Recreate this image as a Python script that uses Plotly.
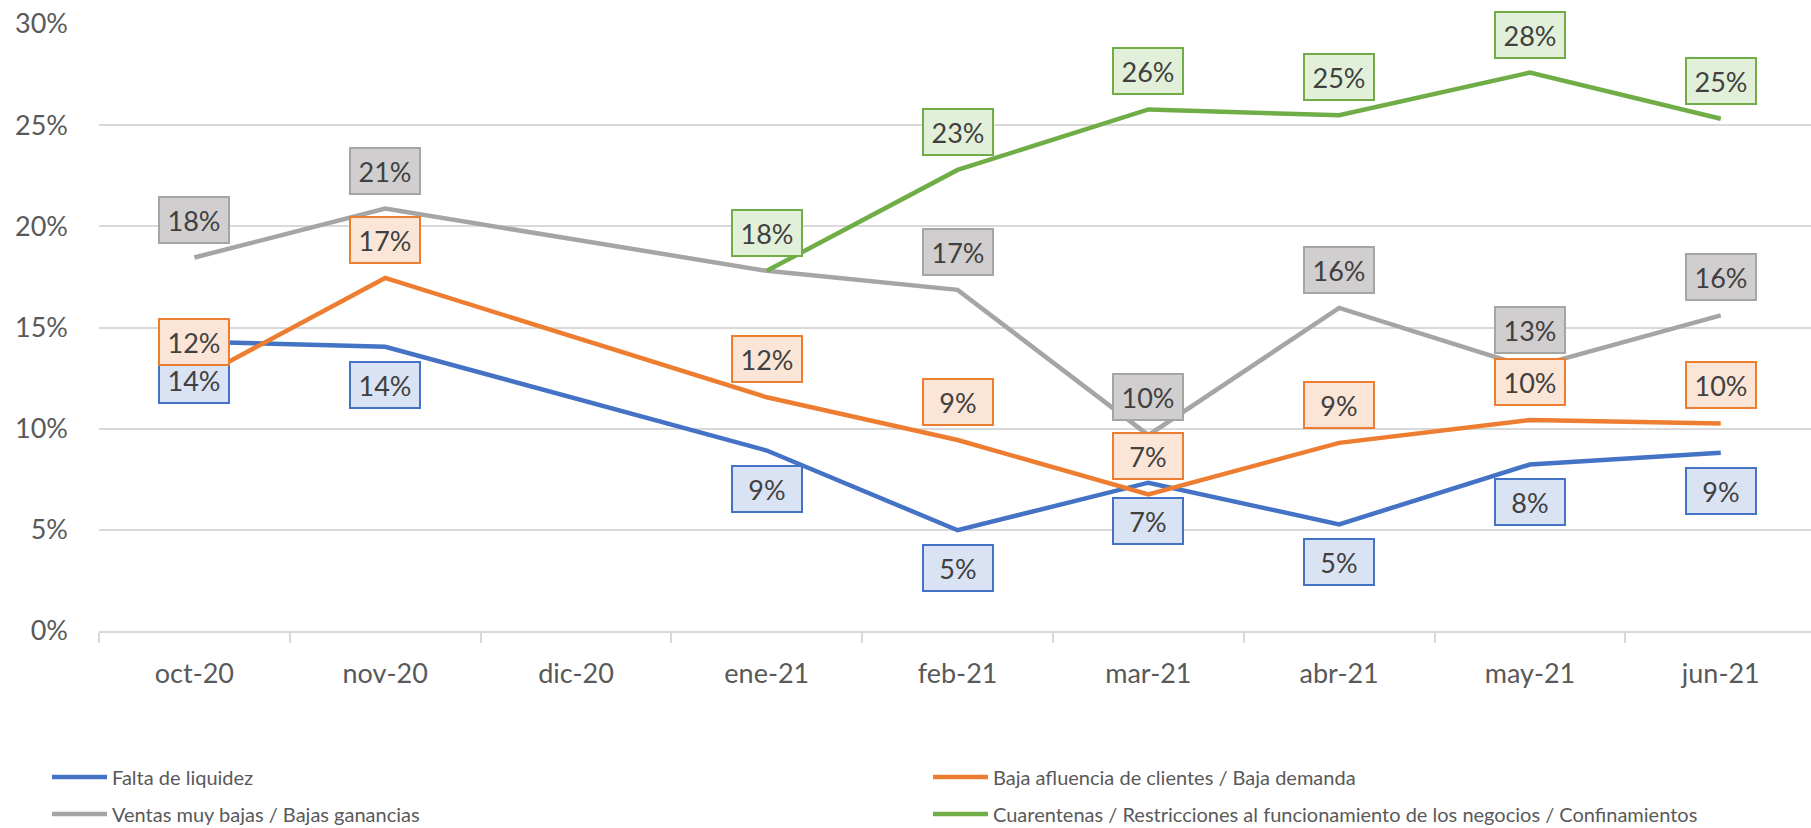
import plotly.graph_objects as go

categories = ["oct-20", "nov-20", "dic-20", "ene-21", "feb-21", "mar-21", "abr-21", "may-21", "jun-21"]

falta_liquidez = [14.3, 14.05, None, 8.92, 4.98, 7.33, 5.27, 8.23, 8.81]
baja_afluencia = [12.4, 17.45, None, 11.55, 9.44, 6.75, 9.3, 10.43, 10.26]
ventas_bajas = [18.46, 20.88, None, 17.8, 16.86, 9.68, 15.97, 13.0, 15.6]
cuarentenas = [None, None, None, 17.8, 22.79, 25.78, 25.49, 27.6, 25.32]

series = [
    ("Falta de liquidez", falta_liquidez, "#4472C4", "#DAE3F3", -1, "legend"),
    ("Baja afluencia de clientes / Baja demanda", baja_afluencia, "#ED7D31", "#FBE5D6", 1, "legend2"),
    ("Ventas muy bajas / Bajas ganancias", ventas_bajas, "#A5A5A5", "#D0CECE", 1, "legend"),
    ("Cuarentenas / Restricciones al funcionamiento de los negocios / Confinamientos",
     cuarentenas, "#70AD47", "#E2F0D9", 1, "legend2"),
]

y_ticks = [0, 5, 10, 15, 20, 25, 30]
y_tick_text = ["0%", "5%", "10%", "15%", "20%", "25%", "30%"]

FONT = "Lato, Open Sans, sans-serif"
LEG_FONT = "Lato, sans-serif"

W, H = 1811, 828
PLOT_TOP, PLOT_BOTTOM, PLOT_LEFT = 24, 631, 99
PH = PLOT_BOTTOM - PLOT_TOP
PW = W - PLOT_LEFT

fig = go.Figure()
annotations = []
for i, (name, vals, color, fill, side, leg) in enumerate(series):
    fig.add_trace(go.Scatter(
        x=categories, y=vals, name=name, mode="lines",
        line=dict(color=color, width=4.5),
        connectgaps=True, legend=leg, legendgroup=f"g{i}",
        hoverinfo="skip",
    ))
    for c, v in zip(categories, vals):
        if v is None:
            continue
        annotations.append(dict(
            x=c, y=v, xref="x", yref="y", text=f"{v:.0f}%", showarrow=False,
            yshift=38 * side, bgcolor=fill, bordercolor=color, borderwidth=2,
            borderpad=0, width=68, height=44, valign="middle",
            font=dict(family=FONT, size=27, color="#404040"),
        ))

leg_y = (PLOT_BOTTOM - 757.5) / PH

fig.update_layout(
    width=W, height=H,
    margin=dict(l=PLOT_LEFT, r=0, t=PLOT_TOP, b=H - PLOT_BOTTOM, autoexpand=False),
    paper_bgcolor="white", plot_bgcolor="white",
    showlegend=True,
    annotations=annotations,
    xaxis=dict(
        type="category", categoryorder="array", categoryarray=categories,
        range=[-0.5, 8.473], showgrid=False,
        showline=True, linecolor="#D9D9D9", linewidth=1.5,
        ticks="outside", tickson="boundaries", ticklen=10, tickcolor="#D9D9D9", tickwidth=1.5,
        tickfont=dict(family=FONT, size=27, color="#595959"),
        ticklabelstandoff=18,
    ),
    yaxis=dict(
        range=[0, 30.001], tickmode="array", tickvals=y_ticks, ticktext=y_tick_text,
        showgrid=True, gridcolor="#D9D9D9", gridwidth=1.5,
        zeroline=False, showline=False,
        tickfont=dict(family=FONT, size=27, color="#595959"),
        ticklabelstandoff=30, ticklabeloverflow="allow",
    ),
    legend=dict(
        x=(47 - PLOT_LEFT) / PW, y=leg_y, xanchor="left", yanchor="top",
        orientation="v", bgcolor="rgba(0,0,0,0)", tracegroupgap=8, itemwidth=55,
        font=dict(family=LEG_FONT, size=20, color="#595959"),
    ),
    legend2=dict(
        x=(928 - PLOT_LEFT) / PW, y=leg_y, xanchor="left", yanchor="top",
        orientation="v", bgcolor="rgba(0,0,0,0)", tracegroupgap=8, itemwidth=55,
        font=dict(family=LEG_FONT, size=20, color="#595959"),
    ),
)

fig.write_html("out.html", config={"displayModeBar": False},
               post_script="document.body.style.margin='0';")
